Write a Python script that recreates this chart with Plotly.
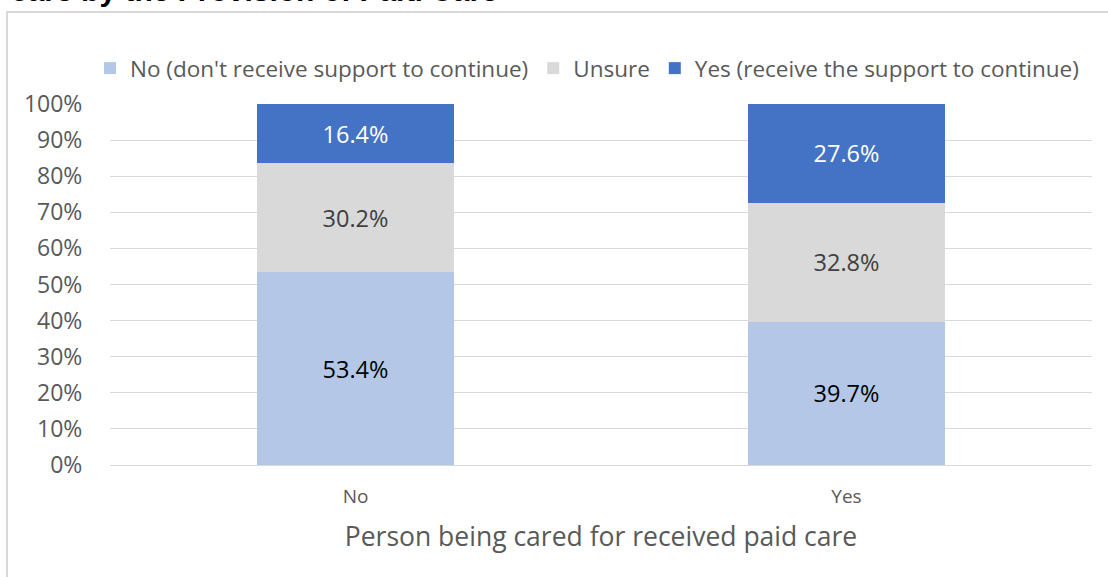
import plotly.graph_objects as go

# Stacked shares of carers who receive support to continue caring,
# split by whether the person cared for received paid care
categories = ["No", "Yes"]
series_names = [
    "No (don't receive support to continue)",
    "Unsure",
    "Yes (receive the support to continue)",
]
no_support = [53.4, 39.7]
unsure = [30.2, 32.8]
yes_support = [16.4, 27.6]
y_ticks = [0, 10, 20, 30, 40, 50, 60, 70, 80, 90, 100]

colors = ["#B4C7E7", "#D9D9D9", "#4472C4"]
label_colors = ["#000000", "#404040", "#FFFFFF"]
FONT = "Open Sans"

fig = go.Figure()
for name, vals, col, lcol in zip(series_names, [no_support, unsure, yes_support], colors, label_colors):
    fig.add_trace(go.Bar(
        name=name,
        x=categories,
        y=vals,
        marker=dict(color=col, line=dict(width=0)),
        text=[f"{v:.1f}%" for v in vals],
        textposition="inside",
        insidetextanchor="middle",
        textangle=0,
        constraintext="none",
        textfont=dict(family=FONT, size=23.5, color=lcol),
        hoverinfo="skip",
    ))

W, H = 1108, 577
L, R, T, B = 110, 16, 104, 112
pw, ph = W - L - R, H - T - B


def px_x(x):
    return (x - L) / pw


def px_y(y):
    return (H - B - y) / ph


fig.update_layout(
    width=W,
    height=H,
    margin=dict(l=L, r=R, t=T, b=B),
    barmode="stack",
    bargap=0.6,
    paper_bgcolor="white",
    plot_bgcolor="white",
    font=dict(family=FONT, color="#595959"),
    showlegend=True,
    uniformtext=dict(minsize=23, mode="show"),
    legend=dict(
        orientation="h",
        x=px_x(90),
        xanchor="left",
        y=px_y(68.5),
        yanchor="middle",
        font=dict(family=FONT, size=22.5, color="#595959"),
        traceorder="normal",
        itemclick=False,
        bgcolor="rgba(0,0,0,0)",
    ),
    xaxis=dict(
        type="category",
        showgrid=False,
        showline=False,
        zeroline=False,
        ticks="outside",
        ticklen=14,
        tickcolor="rgba(0,0,0,0)",
        tickfont=dict(family=FONT, size=19, color="#595959"),
        title=dict(
            text="Person being cared for received paid care",
            font=dict(family=FONT, size=26.5, color="#595959"),
            standoff=19,
        ),
    ),
    yaxis=dict(
        range=[0, 100],
        tickvals=y_ticks,
        ticktext=[f"{v}%" for v in y_ticks],
        showgrid=True,
        gridcolor="#D9D9D9",
        gridwidth=1,
        zeroline=True,
        zerolinecolor="#D9D9D9",
        zerolinewidth=1,
        showline=False,
        ticks="outside",
        ticklen=22,
        tickcolor="rgba(0,0,0,0)",
        tickfont=dict(family=FONT, size=23, color="#595959"),
    ),
)

# Chart frame
fig.add_shape(
    type="rect",
    xref="paper", yref="paper",
    x0=px_x(7), x1=px_x(W + 20),
    y0=px_y(H + 20), y1=px_y(12),
    line=dict(color="#D9D9D9", width=2),
    fillcolor="rgba(0,0,0,0)",
    layer="below",
)

# Title line running above the frame
fig.add_annotation(
    text="care by the Provision of Paid Care",
    xref="paper", yref="paper",
    x=px_x(9), y=px_y(9),
    xanchor="left", yanchor="bottom",
    showarrow=False,
    font=dict(family="Liberation Sans", size=30, color="#000000", weight="bold"),
)

fig.write_html("out.html")
